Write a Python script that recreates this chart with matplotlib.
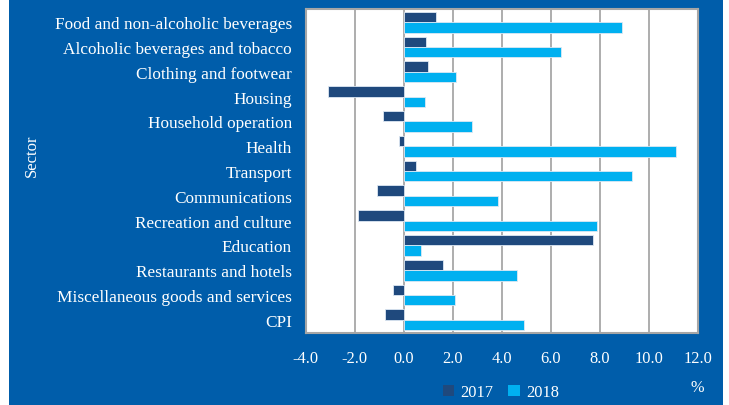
import numpy as np
import matplotlib.pyplot as plt
from matplotlib.patches import Rectangle

# sectors, top to bottom
sectors = ['Food and non-alcoholic beverages', 'Alcoholic beverages and tobacco',
           'Clothing and footwear', 'Housing', 'Household operation', 'Health',
           'Transport', 'Communications', 'Recreation and culture', 'Education',
           'Restaurants and hotels', 'Miscellaneous goods and services', 'CPI']
y2017 = [1.3, 0.9, 1.0, -3.1, -0.85, -0.2, 0.5, -1.1, -1.85, 7.7, 1.6, -0.45, -0.75]
y2018 = [8.9, 6.4, 2.15, 0.85, 2.8, 11.1, 9.3, 3.85, 7.9, 0.7, 4.6, 2.1, 4.9]
xticks = np.arange(-4, 12.1, 2)

bg = '#005DAA'
dark = '#1F497D'
light = '#00B0F0'
plt.rcParams['font.family'] = ['Liberation Serif', 'DejaVu Serif']

fig = plt.figure(figsize=(7.29, 4.06), dpi=100, facecolor='white')
fig.patches.append(Rectangle((9 / 729, 0), 714 / 729, 1, transform=fig.transFigure,
                             facecolor=bg, edgecolor='none', zorder=-10))
ax = fig.add_axes([305.7 / 729, 1 - 334 / 406, 392.3 / 729, 324 / 406])
ax.set_facecolor('white')

pos = np.arange(len(sectors))
h = 0.42
ax.barh(pos - h / 2, y2017, height=h, color=dark, edgecolor='#DDE8F3', linewidth=0.6,
        label='2017', zorder=3)
ax.barh(pos + h / 2, y2018, height=h, color=light, edgecolor='#DDE8F3', linewidth=0.6,
        label='2018', zorder=3)

ax.set_ylim(len(sectors) - 0.47, -0.53)
ax.set_xlim(-4, 12)
ax.set_xticks(xticks)
ax.set_xticklabels(['%.1f' % v for v in xticks])
ax.set_yticks(pos)
ax.set_yticklabels(sectors)
ax.tick_params(axis='y', length=0, pad=10, labelsize=12.4, colors='white')
ax.tick_params(axis='x', length=0, pad=12, labelsize=11.8, colors='white')
ax.grid(axis='x', color='#A0A0A0', linewidth=1.2, zorder=1)
for s in ax.spines.values():
    s.set_color('#A6A6A6')
    s.set_linewidth(1.5)

fig.text(32 / 729, 1 - 156 / 406, 'Sector', rotation=90, color='white', fontsize=12,
         ha='center', va='center')
fig.text(697 / 729, 1 - 388 / 406, '%', color='white', fontsize=11.8,
         ha='center', va='center')
leg = fig.legend(loc='center', bbox_to_anchor=(501 / 729, 1 - 393 / 406), ncol=2,
                 frameon=False, handlelength=0.7, handleheight=0.7, handletextpad=0.4,
                 columnspacing=0.9, fontsize=11.8)
for t in leg.get_texts():
    t.set_color('white')
for p in leg.get_patches():
    p.set_edgecolor('none')

fig.savefig('out.png', dpi=100, facecolor=fig.get_facecolor())
